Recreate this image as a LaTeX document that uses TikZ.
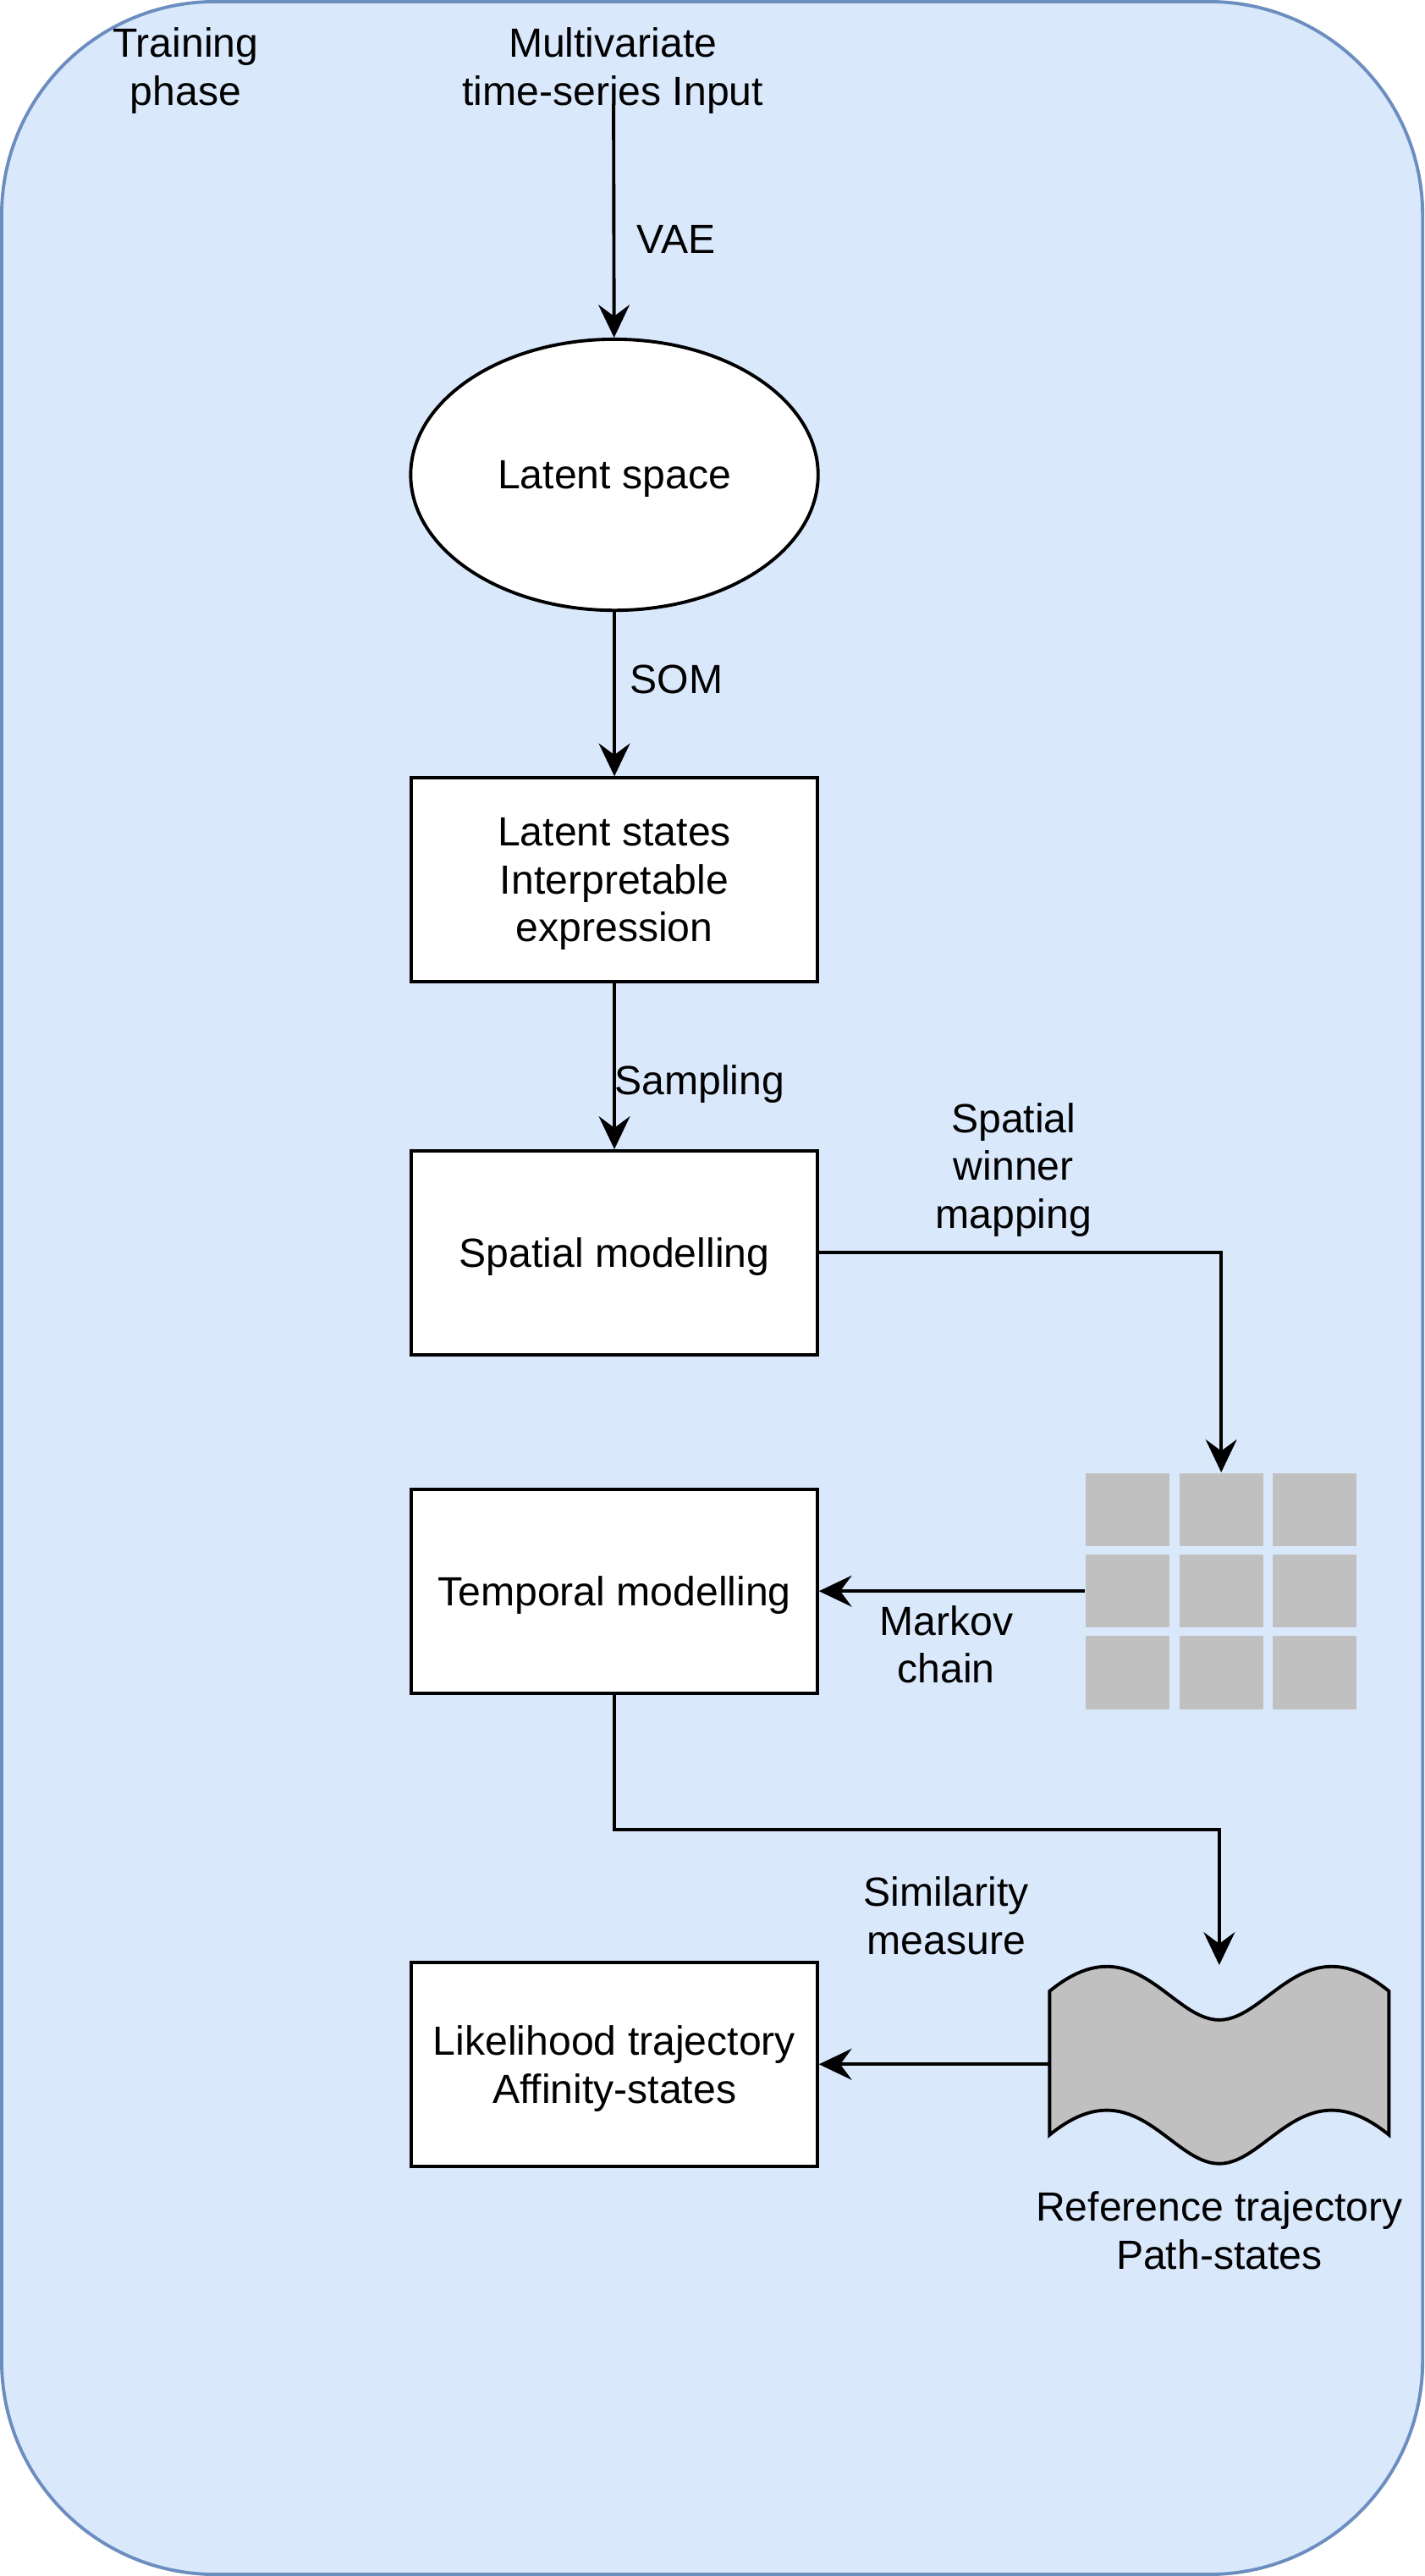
\documentclass[tikz,border=0pt]{standalone}
\usepackage{fontspec}
\setmainfont{Liberation Sans}
\usetikzlibrary{shapes.geometric,arrows.meta,matrix,positioning}
\definecolor{phasefill}{HTML}{DAE8FC}
\definecolor{phaseline}{HTML}{6C8EBF}
\definecolor{cellgray}{HTML}{C0C0C0}
\tikzset{
    stage/.style={draw, fill=white, line width=1pt, minimum width=123.5pt, minimum height=62pt, align=center, text depth=0pt},
    latent/.style={draw, fill=white, ellipse, line width=1pt, minimum width=124pt, minimum height=82.5pt, inner sep=0pt, text depth=0pt},
    flow/.style={-{Stealth[length=10pt,width=9.5pt,inset=3.5pt]}, line width=1pt},
    lbl/.style={align=center}
}

\begin{document}
\begin{tikzpicture}[x=0.5pt, y=-0.5pt, font=\fontsize{12.4}{14.6}\selectfont]
            % Background of the phase
            \draw[phaseline, fill=phasefill, line width=1pt, rounded corners=65pt] (1,1) rectangle (866,1567);
            \useasboundingbox (0,0) rectangle (867,1568);

            \node[lbl] (phase) at (113,43) {Training\\phase};
            \node[lbl] (input) at (373,43) {Multivariate\\time-series Input};
            \coordinate (src) at (373.5,63);

            % Main column
            \node[latent] (lat) at (374,289) {Latent space};
            \node[stage, below=50pt of lat] (states) {Latent states\\Interpretable\\expression};
            \node[stage, below=50.5pt of states] (spat) {Spatial modelling};
            \node[stage, below=40pt of spat] (tm) {Temporal modelling};
            \node[stage, below=81pt of tm] (lik) {Likelihood trajectory\\Affinity-states};

            % Grid of winner cells
            \matrix (grid) [right=81pt of tm, matrix of nodes,
                nodes in empty cells, inner sep=0pt,
                nodes={fill=cellgray, minimum width=25.5pt, minimum height=22.3pt, inner sep=0pt},
                column sep=3pt, row sep=2.5pt]{
                 & & \\
                 & & \\
                 & & \\
            };

            % Reference trajectory (tape)
            \node[minimum width=103.3pt, minimum height=60pt, inner sep=0pt, right=70pt of lik] (ref) {};
            \begin{scope}[shift={(ref.center)}]
                \draw[fill=cellgray, line width=1pt] (-103.3,-44.5) .. controls (-52,-86.5) and (-30,-27) .. (0,-27)
                    .. controls (30,-27) and (52,-86.5) .. (103.3,-44.5) -- (103.3,43)
                    .. controls (52,1) and (30,60.5) .. (0,60.5)
                    .. controls (-30,60.5) and (-52,1) .. (-103.3,43) -- cycle;
            \end{scope}
            \node[lbl, below=5pt of ref] (reflbl) {Reference trajectory\\Path-states};

            % Labels of the links
            \node[lbl] (winner) at (617,712) {Spatial\\winner\\mapping};
            \node[lbl] (markov) at (576,1001) {Markov\\chain};
            \node[lbl] (simil) at (576,1166) {Similarity\\measure};

            % Draw the arrows
            \draw[flow] (src) -- node[pos=0.58, anchor=west, xshift=3.25pt] (vae) {VAE} (lat);
            \draw[flow] (lat) -- node[pos=0.41, anchor=west, xshift=1pt] (som) {SOM} (states);
            \draw[flow] (states) -- node[pos=0.61, anchor=west, xshift=-3.75pt] (samp) {Sampling} (spat);
            \draw[flow] (spat.east) -| (grid.north);
            \draw[flow] (grid.west) -- (tm.east);
            \draw[flow] (tm.south) -- ++(0,82) -| (ref.north);
            \draw[flow] (ref.west) -- (lik.east);

\end{tikzpicture}
\end{document}
